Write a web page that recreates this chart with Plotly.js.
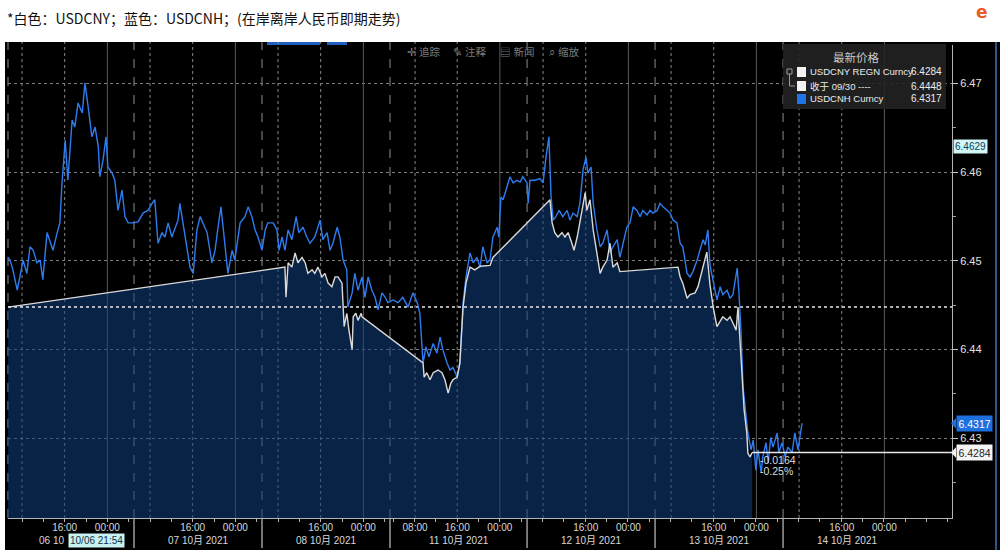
<!DOCTYPE html>
<html><head><meta charset="utf-8">
<script src="https://cdn.plot.ly/plotly-3.0.1.min.js"></script>
<style>html,body{margin:0;padding:0;background:#fff}#chart{width:1000px;height:550px}</style>
</head><body><div id="chart"></div>
<script>
// ---- DATA (x = hours on Bloomberg's compressed trading timeline, weekend removed) ----
const cnhHours = [0.4,0.75,1.3,2.1,2.6,3.2,3.9,4.5,5.1,5.8,
6.4,6.9,7.7,8.3,8.8,9.6,10.1,10.5,11.1,11.6,
12.4,12.9,13.5,14.3,14.8,15.4,16.1,16.7,17.3,17.6,
18.2,18.75,19.1,19.9,20.4,21.0,21.75,22.3,22.9,23.8,
24.75,25.7,26.6,27.4,27.9,28.5,29.25,29.8,30.4,31.1,
31.7,32.25,32.6,33.2,33.9,34.5,35.1,35.8,36.4,36.9,
37.7,38.6,39.2,39.75,40.3,40.9,41.6,42.4,42.9,43.9,
44.8,45.4,46.1,46.7,47.25,48.0,48.6,49.1,50.1,50.8,
51.2,51.75,52.3,52.9,53.6,54.4,54.9,55.7,56.4,57.0,
57.9,58.9,59.4,60.2,60.75,61.3,62.1,62.6,63.2,63.9,
64.1,64.9,65.4,66.0,66.75,67.3,67.9,68.6,69.2,69.75,
70.5,71.1,71.6,72.6,73.5,74.4,75.4,76.3,77.1,77.6,
78.2,78.75,79.3,80.1,80.8,81.4,81.9,82.7,83.25,83.8,
84.6,85.1,85.7,86.25,87.0,87.6,88.3,88.9,89.4,90.2,
90.75,91.3,92.1,92.4,92.8,93.2,93.9,94.5,95.1,95.8,
96.4,96.9,97.7,97.9,98.25,99.2,100.1,100.7,101.25,101.8,
102.2,102.6,103.1,103.7,104.4,105.2,105.75,106.3,107.1,107.6,
108.2,108.75,109.1,109.7,110.1,110.8,111.4,111.9,112.7,113.25,
113.8,114.6,115.1,115.7,116.4,117.0,117.6,118.3,118.9,119.4,
120.2,120.75,121.3,122.1,122.6,123.2,123.9,124.5,125.1,125.8,
126.4,126.9,127.7,128.25,128.8,129.6,130.1,130.7,131.1,131.6,
132.0,132.6,133.3,133.9,134.4,135.2,135.75,136.3,137.1,137.4,
137.8,138.2,138.75,139.1,139.7,140.1,140.6,141.0,141.6,141.9,
142.5,142.9,143.4,143.8,144.6,144.9,145.5,146.1,146.6,147.4,
147.9,148.5,149.25];
const cnhValues = [6.4504,6.4501,6.4490,6.4467,6.4482,6.4501,6.4486,6.4516,6.4512,6.4498,
6.4501,6.4479,6.4532,6.4520,6.4512,6.4532,6.4543,6.4588,6.4636,6.4591,
6.4659,6.4651,6.4678,6.4667,6.4701,6.4674,6.4640,6.4651,6.4629,6.4595,
6.4614,6.4640,6.4606,6.4599,6.4591,6.4557,6.4580,6.4550,6.4543,6.4543,
6.4544,6.4554,6.4557,6.4565,6.4569,6.4520,6.4532,6.4527,6.4543,6.4527,
6.4538,6.4546,6.4565,6.4543,6.4520,6.4493,6.4486,6.4535,6.4550,6.4543,
6.4532,6.4498,6.4512,6.4538,6.4561,6.4527,6.4486,6.4512,6.4501,6.4543,
6.4550,6.4561,6.4550,6.4535,6.4527,6.4512,6.4535,6.4543,6.4543,6.4535,
6.4512,6.4527,6.4512,6.4535,6.4524,6.4550,6.4532,6.4538,6.4527,6.4520,
6.4527,6.4546,6.4524,6.4532,6.4512,6.4520,6.4538,6.4527,6.4501,6.4490,
6.4448,6.4464,6.4486,6.4467,6.4482,6.4459,6.4482,6.4467,6.4459,6.4445,
6.4464,6.4459,6.4453,6.4456,6.4453,6.4459,6.4448,6.4464,6.4453,6.4441,
6.4385,6.4403,6.4392,6.4407,6.4396,6.4414,6.4400,6.4385,6.4377,6.4380,
6.4369,6.4385,6.4453,6.4482,6.4509,6.4498,6.4504,6.4493,6.4516,6.4498,
6.4501,6.4527,6.4538,6.4527,6.4572,6.4569,6.4583,6.4595,6.4588,6.4591,
6.4589,6.4595,6.4588,6.4565,6.4591,6.4591,6.4593,6.4588,6.4617,6.4640,
6.4572,6.4546,6.4550,6.4557,6.4550,6.4557,6.4546,6.4554,6.4550,6.4565,
6.4603,6.4617,6.4599,6.4606,6.4565,6.4535,6.4516,6.4520,6.4535,6.4509,
6.4516,6.4524,6.4504,6.4520,6.4538,6.4543,6.4561,6.4557,6.4550,6.4557,
6.4552,6.4557,6.4554,6.4557,6.4565,6.4561,6.4557,6.4554,6.4546,6.4543,
6.4520,6.4516,6.4486,6.4482,6.4488,6.4501,6.4512,6.4524,6.4518,6.4535,
6.4495,6.4475,6.4456,6.4471,6.4462,6.4467,6.4458,6.4462,6.4492,6.4467,
6.4422,6.4358,6.4329,6.4306,6.4287,6.4298,6.4264,6.4287,6.4261,6.4279,
6.4295,6.4272,6.4301,6.4290,6.4306,6.4284,6.4295,6.4279,6.4290,6.4284,
6.4306,6.4287,6.4317];

const cnyHours = [0.4,52.3,52.5,52.9,53.6,54.2,54.75,55.5,56.1,56.6,
57.4,57.9,58.5,59.25,59.8,60.4,61.1,61.7,62.25,63.0,
63.4,63.9,64.3,64.9,65.1,65.6,66.0,66.6,66.75,
78.2,78.4,78.9,79.5,80.1,81.0,81.75,82.3,82.9,83.4,
83.8,84.6,85.1,85.7,86.25,87.0,87.9,88.9,90.2,90.75,91.3,
102.0,102.4,102.9,103.5,104.25,104.8,105.4,106.1,106.5,107.1,
107.6,108.2,108.6,108.9,109.5,110.1,110.8,111.4,111.9,112.7,
113.25,113.8,114.6,115.1,
126.0,126.4,126.9,127.7,128.25,129.2,129.75,130.7,131.4,132.0,
132.6,133.3,133.9,134.4,135.2,135.75,136.3,136.9,137.25,138.0,
138.4,138.9,139.1,139.5,139.9];
const cnyValues = [6.4448,6.4493,6.4459,6.4498,6.4493,6.4509,6.4498,6.4504,6.4498,6.4486,
6.4490,6.4486,6.4493,6.4482,6.4486,6.4475,6.4471,6.4482,6.4482,6.4475,
6.4426,6.4441,6.4422,6.4400,6.4437,6.4441,6.4433,6.4441,6.4437,
6.4385,6.4369,6.4374,6.4366,6.4374,6.4377,6.4374,6.4366,6.4351,6.4362,
6.4366,6.4369,6.4385,6.4448,6.4475,6.4493,6.4490,6.4494,6.4495,6.4495,6.4504,
6.4569,6.4543,6.4532,6.4527,6.4532,6.4527,6.4532,6.4520,6.4512,6.4527,
6.4543,6.4561,6.4577,6.4557,6.4569,6.4535,6.4509,6.4486,6.4493,6.4501,
6.4520,6.4493,6.4498,6.4488,
6.4493,6.4482,6.4475,6.4458,6.4462,6.4464,6.4471,6.4495,6.4510,6.4473,
6.4448,6.4426,6.4433,6.4437,6.4433,6.4437,6.4430,6.4422,6.4448,6.4380,
6.4332,6.4306,6.4283,6.4279,6.4284];

const prevClose = 6.4448;   // 收于 09/30
const lastCNY = 6.4284;
const lastCNH = 6.4317;
const crossValue = 6.4629;
const crossTimeLabel = '10/06 21:54';

const timeTickText = ['16:00','00:00','16:00','00:00','16:00','00:00','08:00','16:00','00:00','16:00','00:00','16:00','00:00','16:00','00:00'];
const dayLabels = ['06 10','07 10月 2021','08 10月 2021','11 10月 2021','12 10月 2021','13 10月 2021','14 10月 2021'];
const legendNames = ['USDCNY REGN Curncy','收于 09/30 ----','USDCNH Curncy'];

// ---- LAYOUT GEOMETRY ----
const W=1000,H=550,ML=8,MR=48,MT=45,MB=32;
const PW=W-ML-MR, PH=H-MT-MB;
const px = v => (v-ML)/PW;
const py = v => (H-MB-v)/PH;
const xRange=[0.375,177.375];
const yRange=[6.421012,6.474355];
const timeTickHours=[11,19,35,43,59,67,76.7,84.6,92.6,108.7,116.7,132.7,140.7,156.7,164.7];
const dayCenters=[null,36,60,84.85,109.7,133.7,157.7];
const sepHours=[24,48,72,97.7,121.7,145.7];
const midnightHours=[19,43,67,92.6,116.7,140.7,164.7];
const dottedHours=[3,11,27,35,51,59,76.7,84.6,100.7,108.7,124.7,132.7,148.7,156.7];
const crossHour=16.9;
const minorTicks=[];
for(let h=3;h<72;h+=4) minorTicks.push(h);
for(let h=72.6;h<177;h+=4) minorTicks.push(+h.toFixed(1));

const FONT='Liberation Sans, Noto Sans CJK SC, sans-serif';
const shapes=[];
// black chart panel
shapes.push({type:'rect',xref:'paper',yref:'paper',x0:px(5),x1:px(1000),y0:py(550),y1:py(42),fillcolor:'#000',line:{width:0},layer:'below'});
// top tab highlight
shapes.push({type:'rect',xref:'paper',yref:'paper',x0:px(267),x1:px(320),y0:py(45),y1:py(42),fillcolor:'#1f5fbf',line:{width:0},layer:'below'});
shapes.push({type:'rect',xref:'paper',yref:'paper',x0:px(327),x1:px(347),y0:py(45),y1:py(42),fillcolor:'#1f5fbf',line:{width:0},layer:'below'});
// right edge blue line
shapes.push({type:'line',xref:'paper',yref:'paper',x0:px(996),x1:px(996),y0:py(550),y1:py(42),line:{color:'#2c5688',width:2},layer:'below'});
// vertical grid
dottedHours.forEach(h=>shapes.push({type:'line',xref:'x',yref:'paper',x0:h,x1:h,y0:0,y1:py(42),line:{color:'#858585',width:1,dash:'dot'},layer:'below'}));
midnightHours.forEach(h=>shapes.push({type:'line',xref:'x',yref:'paper',x0:h,x1:h,y0:0,y1:py(42),line:{color:'#5c5c5c',width:1},layer:'below'}));
sepHours.forEach(h=>{
  shapes.push({type:'line',xref:'x',yref:'paper',x0:h,x1:h,y0:0,y1:py(42),line:{color:'#8c8c8c',width:1,dash:'dash'},layer:'below'});
  shapes.push({type:'line',xref:'x',yref:'paper',x0:h,x1:h,y0:py(548),y1:0,line:{color:'#9c9c9c',width:1.5},layer:'below'});
});
shapes.push({type:'line',xref:'paper',yref:'paper',x0:0,x1:0,y0:0,y1:py(42),line:{color:'#8c8c8c',width:1,dash:'dash'},layer:'below'});
// last price line for USDCNY
shapes.push({type:'line',xref:'x',yref:'y',x0:cnyHours[cnyHours.length-1],x1:xRange[1],y0:lastCNY,y1:lastCNY,line:{color:'#e8e8e8',width:1.5},layer:'above'});
// badge arrow tips
const tip=(v,c)=>shapes.push({type:'path',xref:'paper',yref:'y',path:`M ${px(951)},${v} L ${px(956)},${v+0.0006} L ${px(956)},${v-0.0006} Z`,fillcolor:c,line:{width:0},layer:'above'});
tip(lastCNH,'#1e6fe0'); tip(lastCNY,'#f4f4f4');
// legend panel
shapes.push({type:'rect',xref:'paper',yref:'paper',x0:px(783),x1:px(946),y0:py(109),y1:py(44),fillcolor:'rgba(34,34,34,0.9)',line:{width:0},layer:'above'});
[[67,77,'#f2f2f2'],[81,91,'#f2f2f2'],[94,104,'#1f74e8']].forEach(r=>shapes.push({type:'rect',xref:'paper',yref:'paper',x0:px(797),x1:px(806),y0:py(r[1]),y1:py(r[0]),fillcolor:r[2],line:{width:0},layer:'above'}));
shapes.push({type:'rect',xref:'paper',yref:'paper',x0:px(787),x1:px(792),y0:py(74),y1:py(69),line:{color:'#9a9a9a',width:1},layer:'above'});
shapes.push({type:'path',xref:'paper',yref:'paper',path:`M ${px(789.5)},${py(74)} L ${px(789.5)},${py(86)} L ${px(795)},${py(86)}`,line:{color:'#9a9a9a',width:1},layer:'above'});

const ann=[];
const A=o=>ann.push(Object.assign({showarrow:false,xref:'paper',yref:'paper',font:{family:FONT,size:10.5,color:'#e0e0e0'}},o));
// title
A({x:px(5),y:py(18),xanchor:'left',yanchor:'middle',text:'*白色：USDCNY；蓝色：USDCNH；(在岸离岸人民币即期走势)',font:{family:'Noto Sans CJK SC, sans-serif',size:14,color:'#111'}});
// partial logo at top right
A({x:px(982),y:py(12),xanchor:'center',yanchor:'middle',text:'<b>e</b>',font:{family:'DejaVu Sans, sans-serif',size:17,color:'#ec5a2c'}});
// toolbar
[['✛ 追踪',405],['✎ 注释',451],['▤ 新闻',498],['⌕ 缩放',547]].forEach(t=>A({x:px(t[1]),y:py(52),xanchor:'left',yanchor:'middle',text:t[0],font:{family:FONT,size:10.5,color:'#7c7c7c'}}));
// legend
A({x:px(856),y:py(58),xanchor:'center',yanchor:'middle',text:'最新价格',font:{family:FONT,size:11.5,color:'#c8c8c8'}});
const legVals=[lastCNY,prevClose,lastCNH];
[72,86,99].forEach((yy,i)=>{
  A({x:px(808),y:py(yy),xanchor:'left',yanchor:'middle',text:legendNames[i],font:{family:FONT,size:9.5,color:'#ececec'}});
  A({x:px(944),y:py(yy),xanchor:'right',yanchor:'middle',text:legVals[i].toFixed(4),font:{family:FONT,size:10,color:'#ececec'}});
});
// value badges on right axis
A({x:px(953),yref:'y',y:crossValue,xanchor:'left',yanchor:'middle',text:crossValue.toFixed(4),bgcolor:'#d2f5f5',borderpad:1,font:{family:FONT,size:10,color:'#0b3d5c'}});
A({x:px(956),yref:'y',y:lastCNH,xanchor:'left',yanchor:'middle',text:lastCNH.toFixed(4),bgcolor:'#1e6fe0',borderpad:1.5,font:{family:FONT,size:10.5,color:'#ffffff'}});
A({x:px(956),yref:'y',y:lastCNY,xanchor:'left',yanchor:'middle',text:lastCNY.toFixed(4),bgcolor:'#f4f4f4',borderpad:1.5,font:{family:FONT,size:10.5,color:'#222'}});
// change labels
const chg=lastCNY-prevClose;
A({x:px(758),y:py(460),xanchor:'left',yanchor:'middle',text:chg.toFixed(4),font:{family:FONT,size:10.5,color:'#dcdcdc'}});
A({x:px(758),y:py(471),xanchor:'left',yanchor:'middle',text:(chg/prevClose*100).toFixed(2)+'%',font:{family:FONT,size:10.5,color:'#dcdcdc'}});
// day labels
A({x:px(66),y:py(540),xanchor:'right',yanchor:'middle',text:dayLabels[0],font:{family:FONT,size:10,color:'#d8d8d8'}});
dayLabels.slice(1).forEach((d,i)=>A({xref:'x',x:dayCenters[i+1],y:py(540),xanchor:'center',yanchor:'middle',text:d,font:{family:FONT,size:10,color:'#d8d8d8'}}));
A({xref:'x',x:crossHour,y:py(540),xanchor:'center',yanchor:'middle',text:crossTimeLabel,bgcolor:'#c8f1f1',borderpad:1,font:{family:FONT,size:10,color:'#10324a'}});

const traces=[
  {x:cnyHours,y:cnyValues,type:'scatter',mode:'lines',fill:'tozeroy',fillcolor:'rgba(16,64,128,0.55)',line:{width:0},hoverinfo:'skip'},
  {x:xRange,y:[prevClose,prevClose],type:'scatter',mode:'lines',line:{color:'#e8e8e8',width:1.5,dash:'dot'},hoverinfo:'skip'},
  {x:cnhHours,y:cnhValues,type:'scatter',mode:'lines',name:'USDCNH Curncy',line:{color:'#2e7cf0',width:1.4}},
  {x:cnyHours,y:cnyValues,type:'scatter',mode:'lines',name:'USDCNY REGN Curncy',line:{color:'#dadada',width:1.4}}
];

const layout={
  width:W,height:H,margin:{l:ML,r:MR,t:MT,b:MB},
  paper_bgcolor:'#ffffff',plot_bgcolor:'rgba(0,0,0,0)',showlegend:false,hovermode:false,
  font:{family:FONT,color:'#dddddd'},
  xaxis:{range:xRange,tickmode:'array',tickvals:timeTickHours,ticktext:timeTickText,showgrid:false,zeroline:false,
    showline:true,linecolor:'#b4b4b4',linewidth:1,ticks:'',
    tickfont:{family:FONT,size:10,color:'#d8d8d8'},
    minor:{tickmode:'array',tickvals:minorTicks,ticks:'outside',ticklen:3,tickcolor:'#b4b4b4',showgrid:false}},
  yaxis:{side:'right',range:yRange,tickmode:'linear',tick0:6.43,dtick:0.01,tickformat:'.2f',
    showgrid:true,gridcolor:'#7c7c7c',griddash:'dot',gridwidth:1,zeroline:false,
    showline:true,linecolor:'#b4b4b4',linewidth:1,ticks:'outside',ticklen:5,tickcolor:'#c8c8c8',
    tickfont:{family:FONT,size:11,color:'#e2e2e2'},
    minor:{dtick:0.005,tick0:6.425,ticks:'outside',ticklen:3,tickcolor:'#a0a0a0',showgrid:false}},
  shapes:shapes,annotations:ann
};
Plotly.newPlot('chart',traces,layout,{staticPlot:true,displayModeBar:false});
</script></body></html>
